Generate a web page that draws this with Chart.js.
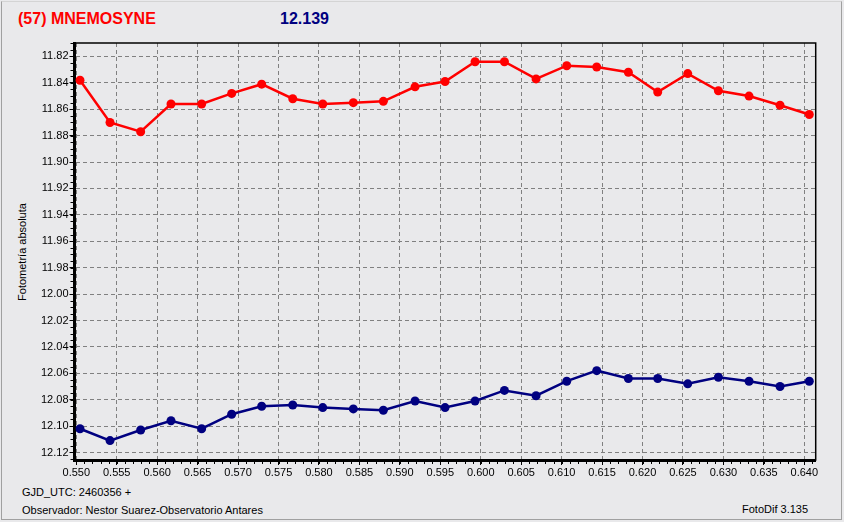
<!DOCTYPE html>
<html>
<head>
<meta charset="utf-8">
<script src="https://cdn.jsdelivr.net/npm/chart.js@4.4.1/dist/chart.umd.min.js"></script>
<style>
  body { margin: 0; width: 844px; height: 522px; background: #e9e9eb; overflow: hidden; position: relative;
         font-family: "Liberation Sans", Arial, sans-serif; }
  .frame { position: absolute; left: 1px; top: 1px; width: 841px; height: 519px; box-sizing: border-box;
           border: 1px solid #a0a0a0; border-top-color: #d4d4d4; }
  #wrap { position: absolute; left: 0; top: 0; width: 844px; height: 522px; }
  .t { position: absolute; white-space: nowrap; line-height: 1; }
  .title { font-size: 16px; font-weight: bold; top: 11px; }
  .small { font-size: 11px; color: #000; }
</style>
</head>
<body>
<div class="frame"></div>
<div class="t title" style="left:18px;color:#ff0000">(57) MNEMOSYNE</div>
<div class="t title" style="left:280px;color:#000080">12.139</div>
<div class="t small" style="left:22px;top:252px;transform:translate(-50%,-50%) rotate(-90deg)">Fotometría absoluta</div>
<div class="t small" style="left:22px;top:487px">GJD_UTC: 2460356 +</div>
<div class="t small" style="left:22px;top:505px">Observador: Nestor Suarez-Observatorio Antares</div>
<div class="t small" style="left:742px;top:504px">FotoDif 3.135</div>
<div id="wrap"><canvas id="chart" width="844" height="522"></canvas></div>
<script>
// fracción de día (GJD_UTC - 2460356)
const times = [
  0.55046, 0.55417, 0.55796, 0.56171, 0.56550, 0.56921, 0.57292, 0.57676, 0.58047,
  0.58425, 0.58796, 0.59188, 0.59559, 0.59930, 0.60293, 0.60684, 0.61063, 0.61434,
  0.61825, 0.62188, 0.62559, 0.62938, 0.63317, 0.63700, 0.64062,
];
// serie superior (roja)
const magRed = [
  11.838, 11.870, 11.877, 11.856, 11.856, 11.848, 11.841, 11.852, 11.856,
  11.855, 11.854, 11.843, 11.839, 11.824, 11.824, 11.837, 11.827, 11.828,
  11.832, 11.847, 11.833, 11.846, 11.850, 11.857, 11.864,
];
// serie inferior (azul)
const magBlue = [
  12.102, 12.111, 12.103, 12.096, 12.102, 12.091, 12.085, 12.084, 12.086,
  12.087, 12.088, 12.081, 12.086, 12.081, 12.073, 12.077, 12.066, 12.058,
  12.064, 12.064, 12.068, 12.063, 12.066, 12.070, 12.066,
];
const xTicks = [0.550, 0.555, 0.560, 0.565, 0.570, 0.575, 0.580, 0.585, 0.590, 0.595,
  0.600, 0.605, 0.610, 0.615, 0.620, 0.625, 0.630, 0.635, 0.640];
const yTicks = [11.82, 11.84, 11.86, 11.88, 11.90, 11.92, 11.94, 11.96, 11.98, 12.00,
  12.02, 12.04, 12.06, 12.08, 12.10, 12.12];

const FONT = { family: '"Liberation Sans", Arial, sans-serif', size: 11 };

// marco fino arriba/derecha + ticks menores
const frame = {
  id: "frame",
  afterDraw(chart) {
    const { ctx, chartArea: a, scales: { x, y } } = chart;
    ctx.save();
    ctx.strokeStyle = "#000";
    ctx.lineWidth = 1.5;
    ctx.strokeRect(a.left, a.top, a.right - a.left, a.bottom - a.top);
    ctx.lineWidth = 1;
    ctx.beginPath();
    for (let i = 549; i <= 642; i++) {
      const px = Math.round(x.getPixelForValue(i / 1000)) + 0.5;
      if (px < a.left || px > a.right) continue;
      ctx.moveTo(px, a.bottom + 1);
      ctx.lineTo(px, a.bottom + 4);
    }
    for (let i = 2362; i <= 2426; i++) {
      const py = Math.round(y.getPixelForValue(i / 200)) + 0.5;
      if (py < a.top || py > a.bottom) continue;
      ctx.moveTo(a.left - 1, py);
      ctx.lineTo(a.left - 4, py);
    }
    ctx.stroke();
    ctx.restore();
  },
};

function series(values, color) {
  return {
    data: times.map((t, i) => ({ x: t, y: values[i] })),
    showLine: true,
    borderColor: color,
    backgroundColor: color,
    borderWidth: 2.5,
    pointRadius: 4.5,
    pointBorderWidth: 0,
    pointStyle: "circle",
  };
}

new Chart(document.getElementById("chart"), {
  type: "scatter",
  data: { datasets: [series(magRed, "#ff0000"), series(magBlue, "#000080")] },
  options: {
    responsive: false,
    animation: false,
    devicePixelRatio: 1,
    layout: { padding: { left: 0, top: 43, right: 28.3, bottom: 30 } },
    plugins: { legend: { display: false }, tooltip: { enabled: false } },
    scales: {
      x: {
        type: "linear",
        min: 0.54978,
        max: 0.64141,
        afterBuildTicks: (s) => { s.ticks = xTicks.map((v) => ({ value: v })); },
        afterFit: (s) => { s.height = 32; },
        ticks: { font: FONT, color: "#000", padding: 1, maxRotation: 0,
                 callback: (v) => v.toFixed(3) },
        grid: { color: "#808080", lineWidth: 1, tickLength: 5, tickColor: "#000", tickWidth: 1 },
        border: { color: "#000", width: 3, dash: [4, 3] },
      },
      y: {
        type: "linear",
        reverse: true,
        min: 11.8098,
        max: 12.1257,
        afterBuildTicks: (s) => { s.ticks = yTicks.map((v) => ({ value: v })); },
        afterFit: (s) => { s.width = 74.5; },
        ticks: { font: FONT, color: "#000", padding: 1,
                 callback: (v) => v.toFixed(2) },
        grid: { color: "#808080", lineWidth: 1, tickLength: 5, tickColor: "#000", tickWidth: 1 },
        border: { color: "#000", width: 3, dash: [4, 3] },
      },
    },
  },
  plugins: [frame],
});
</script>
</body>
</html>
